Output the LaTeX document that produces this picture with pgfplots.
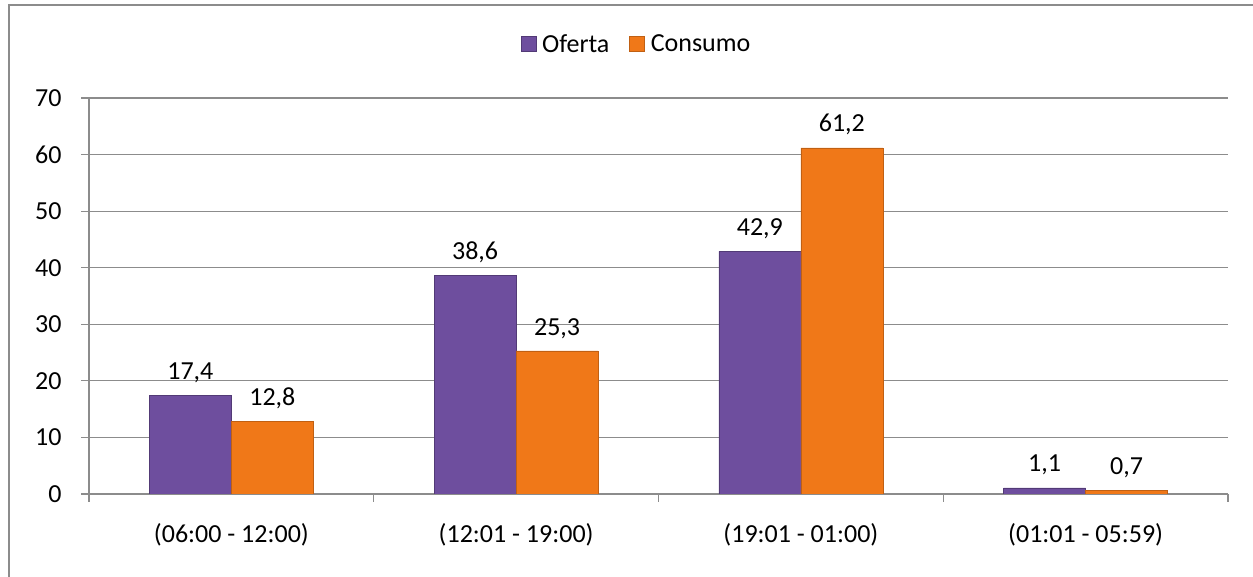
\documentclass[border=0pt]{standalone}
\usepackage{pgfplots}
\pgfplotsset{compat=1.18}
\usepackage{fontspec}
\setmainfont{Carlito}
\definecolor{ofer}{HTML}{6E4E9E}
\definecolor{cons}{HTML}{F07818}
\definecolor{gridc}{HTML}{8C8C8C}
\newcommand{\F}{\fontsize{26}{31}\selectfont}
\begin{document}
\begin{tikzpicture}[font=\F]
\useasboundingbox (0,0) rectangle (1253pt,577pt);
\draw[color=gridc, line width=2pt] (9pt,-10pt) -- (9pt,572pt) -- (1263pt,572pt);
\begin{axis}[
  at={(89pt,83pt)}, anchor=south west,
  scale only axis, width=1139pt, height=396pt,
  ymin=0, ymax=70, ytick={0,10,...,70},
  xmin=-0.5, xmax=3.5,
  xtick={-0.5,0.5,1.5,2.5,3.5}, xticklabels={},
  extra x ticks={0,1,2,3},
  extra x tick labels={(06:00 - 12:00),(12:01 - 19:00),(19:01 - 01:00),(01:01 - 05:59)},
  extra x tick style={major tick length=0pt, grid=none, xticklabel style={yshift=-26pt}},
  axis x line=bottom, axis y line=left, axis line style={-, draw=gridc, line width=1.2pt},
  tick align=outside, major tick length=8pt,
  tick style={draw=gridc, line width=1.2pt},
  ymajorgrids, grid style={draw=gridc, line width=1.2pt},
  yticklabel style={xshift=-16pt},
  tick label style={font=\F, text=black},
  ybar=0pt, bar width=82pt,
  /pgf/number format/assume math mode=true,
  yticklabel={\pgfmathprintnumber[fixed,precision=0]{\tick}},
  nodes near coords={\pgfmathprintnumber[use comma,fixed,fixed zerofill,precision=1]{\pgfplotspointmeta}},
  every node near coord/.append style={yshift=9pt, text=black, font=\F},
  legend style={at={(0.4807,1.136)}, anchor=center, draw=none, legend columns=2, font=\F,
    /tikz/every odd column/.append style={column sep=4pt},
    /tikz/every even column/.append style={column sep=18pt}},
  legend image code/.code={\draw[#1] (0pt,-7.5pt) rectangle (15pt,7.5pt);},
]
\addplot[fill=ofer, draw=ofer!75!black] coordinates {(0,17.4) (1,38.6) (2,42.9) (3,1.1)};
\addplot[fill=cons, draw=cons!80!black] coordinates {(0,12.8) (1,25.3) (2,61.2) (3,0.7)};
\legend{Oferta, Consumo}
\end{axis}
\end{tikzpicture}
\end{document}
